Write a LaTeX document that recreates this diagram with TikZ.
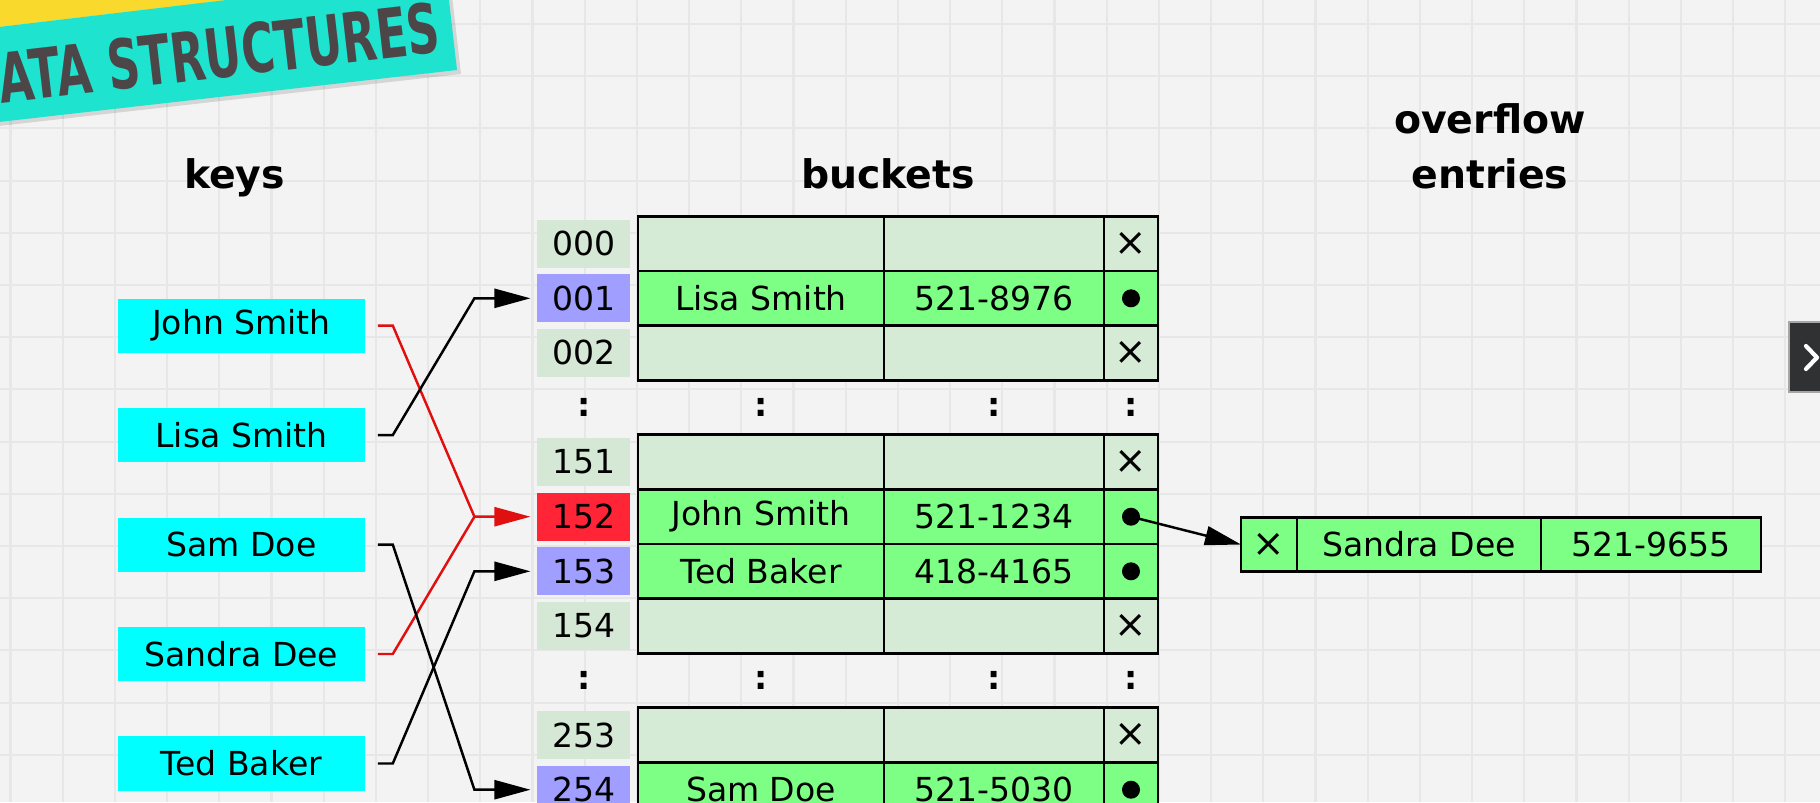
\documentclass[tikz,border=0pt]{standalone}
\usepackage{fontspec}
\usepackage{graphicx}
\setmainfont{DejaVu Sans}
\usetikzlibrary{arrows.meta,positioning}

\definecolor{bgpaper}{HTML}{F3F3F3}
\definecolor{gridline}{HTML}{E7E7E7}
\definecolor{keycyan}{HTML}{00FFFF}
\definecolor{idxgray}{HTML}{D5E8D5}
\definecolor{idxblue}{HTML}{A09EFF}
\definecolor{idxred}{HTML}{FF2436}
\definecolor{emptygreen}{HTML}{D5EBD5}
\definecolor{fullgreen}{HTML}{7DFF85}
\definecolor{linkred}{HTML}{E01010}
\definecolor{bannercyan}{HTML}{1DE3CF}
\definecolor{banneryellow}{HTML}{F8D92C}
\definecolor{bannertext}{HTML}{4C4648}
\definecolor{btngray}{HTML}{2F3133}

\tikzset{
  cellfont/.style={font=\fontsize{9.4}{11}\selectfont},
  keybox/.style={cellfont, fill=keycyan, minimum width=2.46cm, minimum height=0.54cm, inner sep=0pt},
  idxcell/.style={cellfont, fill=idxgray, minimum width=0.93cm, minimum height=0.48cm, inner sep=0pt},
  bucket/.style={cellfont, draw, line width=0.8pt, minimum height=0.546cm, inner sep=0pt, outer sep=0pt},
  namecell/.style={bucket, minimum width=2.46cm},
  phonecell/.style={bucket, minimum width=2.20cm},
  ptrcell/.style={bucket, minimum width=0.54cm},
  head/.style={font=\bfseries\fontsize{11.2}{13}\selectfont, anchor=base},
  vdots/.style={font=\bfseries\fontsize{9.4}{11}\selectfont},
  link/.style={line width=0.7pt, -{Triangle[length=3.6mm, width=1.9mm]}},
}
\newcommand{\nullx}{{\fontsize{11}{11}\selectfont ×}}

\begin{document}
\begin{tikzpicture}[x=0.01cm, y=-0.01cm]
    \useasboundingbox (0,0) rectangle (1820,802);
    \clip (0,0) rectangle (1820,802);

    % paper and grid
    \fill[bgpaper] (0,0) rectangle (1820,802);
    \foreach \gx in {10.5,62.7,...,1830} {
        \draw[gridline, line width=0.6pt] (\gx,0) -- (\gx,802);
    }
    \foreach \gy in {24,76.2,...,810} {
        \draw[gridline, line width=0.6pt] (0,\gy) -- (1820,\gy);
    }

    % banner
    \fill[banneryellow] (-10,28) -- (460,-27) -- (460,-60) -- (-10,-60) -- cycle;
    \fill[black, opacity=0.12] (-10,127) -- (461,74) -- (450,-22) -- (-10,32) -- cycle;
    \fill[bannercyan] (-10,28) -- (446,-26) -- (457,70) -- (-10,123) -- cycle;
    \node[rotate=6.6, anchor=base east, text=bannertext, inner sep=0pt,
          font=\bfseries\fontsize{19.5}{20}\selectfont] (banner) at (443,52)
          {\scalebox{0.66}[1]{DATA STRUCTURES}};

    % headers
    \node[head] (hkeys) at (234.5,188) {keys};
    \node[head] (hbuckets) at (888,188) {buckets};
    \node[head] (hover) at (1490,133.5) {overflow};
    \node[head] (hentries) at (1490,188) {entries};

    % keys
    \node[keybox] (kjs) at (241.5,325.6) {John Smith};
    \node[keybox, below=0.54cm of kjs] (kls) {Lisa Smith};
    \node[keybox, below=0.54cm of kls] (ksam) {Sam Doe};
    \node[keybox, below=0.54cm of ksam] (ksan) {Sandra Dee};
    \node[keybox, below=0.54cm of ksan] (ktb) {Ted Baker};

    % empty buckets
    \foreach \idx/\ry in {000/243.7, 002/352.9, 151/462.1, 154/625.9, 253/735.1} {
        \node[idxcell] (i\idx) at (583.7,\ry) {\idx};
        \node[namecell, fill=emptygreen] (n\idx) at (761,\ry) {};
        \node[phonecell, fill=emptygreen] (t\idx) at (994,\ry) {};
        \node[ptrcell, fill=emptygreen] (p\idx) at (1131,\ry) {\nullx};
    }
    % filled buckets
    \foreach \idx/\ry/\nm/\ph/\col in {001/298.3/Lisa Smith/521-8976/idxblue,
            152/516.7/John Smith/521-1234/idxred, 153/571.3/Ted Baker/418-4165/idxblue,
            254/789.7/Sam Doe/521-5030/idxblue} {
        \node[idxcell, fill=\col] (i\idx) at (583.7,\ry) {\idx};
        \node[namecell, fill=fullgreen] (n\idx) at (761,\ry) {\nm};
        \node[phonecell, fill=fullgreen] (t\idx) at (994,\ry) {\ph};
        \node[ptrcell, fill=fullgreen] (p\idx) at (1131,\ry) {};
        \fill (p\idx.center) circle (0.9mm);
    }
    % skipped rows
    \foreach \cx [count=\c] in {583.7,761,994,1131} {
        \node[vdots] (gapa\c) at (\cx,407.5) {:};
        \node[vdots] (gapb\c) at (\cx,680.5) {:};
    }

    % overflow entry
    \node[ptrcell, fill=fullgreen, minimum width=0.56cm] (ovx) at (1269,544.5) {\nullx};
    \node[namecell, fill=fullgreen, minimum width=2.44cm] (ovn) at (1419,544.5) {Sandra Dee};
    \node[phonecell, fill=fullgreen] (ovt) at (1651,544.5) {521-9655};

    % hash links
    \draw[link, linkred] ([xshift=0.125cm]kjs.east) -- ++(0.15cm,0) -- ([xshift=-0.62cm]i152.west) -- ([xshift=-0.06cm]i152.west);
    \draw[linkred, line width=0.7pt] ([xshift=0.125cm]ksan.east) -- ++(0.15cm,0) -- ([xshift=-0.62cm]i152.west);
    \draw[link] ([xshift=0.125cm]kls.east) -- ++(0.15cm,0) -- ([xshift=-0.62cm]i001.west) -- ([xshift=-0.06cm]i001.west);
    \draw[link] ([xshift=0.125cm]ksam.east) -- ++(0.15cm,0) -- ([xshift=-0.62cm]i254.west) -- ([xshift=-0.06cm]i254.west);
    \draw[link] ([xshift=0.125cm]ktb.east) -- ++(0.15cm,0) -- ([xshift=-0.62cm]i153.west) -- ([xshift=-0.06cm]i153.west);
    \draw[link] (p152.center) -- (ovx.west);

    % player button
    \filldraw[fill=btngray, draw=gray!70, line width=0.4pt] (1789,322) rectangle (1830,392);
    \draw[white, line width=1.2pt, line cap=round, line join=round] (1806,346) -- (1817,357.5) -- (1806,369);
\end{tikzpicture}
\end{document}
